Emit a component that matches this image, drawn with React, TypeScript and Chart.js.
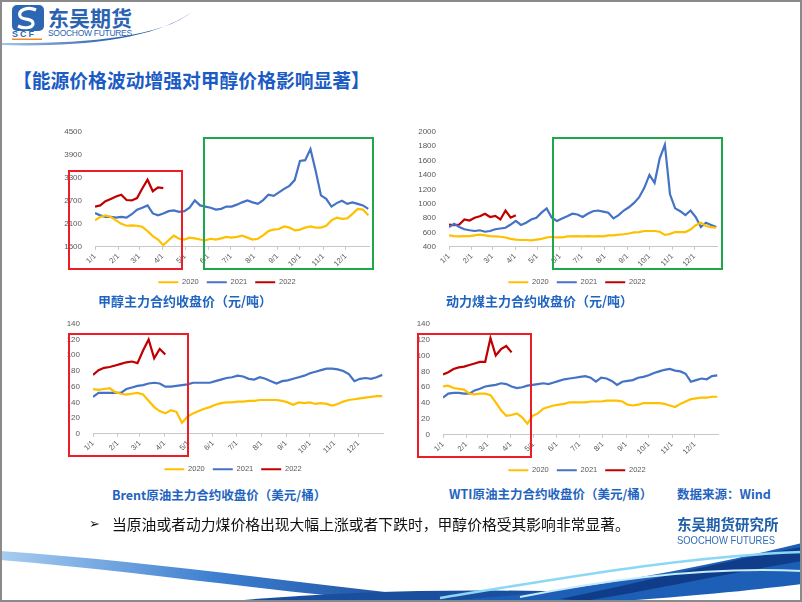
import React, { useEffect, useRef } from "react";
import { Chart, registerables } from "chart.js";
Chart.register(...registerables);

// x positions: day of year of each weekly sample
const weekDays = [0, 7, 14, 21, 28, 35, 42, 49, 56, 63, 70, 77, 84, 91, 98, 105, 112, 119, 126, 133, 140, 147, 154, 161, 168, 175, 182, 189, 196, 203, 210, 217, 224, 231, 238, 245, 252, 259, 266, 273, 280, 287, 294, 301, 308, 315, 322, 329, 336, 343, 350, 357, 364];
const monthStartDays = [0, 31, 59, 90, 120, 151, 181, 212, 243, 273, 304, 334];
const monthTickLabels = ["1/1", "2/1", "3/1", "4/1", "5/1", "6/1", "7/1", "8/1", "9/1", "10/1", "11/1", "12/1"];
const seriesNames = ["2020", "2021", "2022"];
const seriesColors = ["#FFC000", "#4472C4", "#C00000"];

// 甲醇主力合约收盘价（元/吨）
const methanol2020 = [2190, 2280, 2320, 2280, 2190, 2100, 2050, 2060, 2050, 2020, 1910, 1780, 1690, 1540, 1670, 1790, 1710, 1690, 1740, 1720, 1690, 1670, 1710, 1690, 1720, 1760, 1740, 1760, 1790, 1740, 1690, 1710, 1800, 1910, 1950, 1965, 2030, 2000, 1930, 1950, 2000, 2030, 2000, 2000, 2050, 2190, 2260, 2230, 2240, 2360, 2490, 2470, 2320];
const methanol2021 = [2380, 2320, 2280, 2280, 2260, 2280, 2260, 2350, 2470, 2520, 2580, 2370, 2320, 2370, 2430, 2450, 2410, 2430, 2520, 2710, 2580, 2550, 2520, 2470, 2490, 2550, 2550, 2600, 2660, 2710, 2660, 2620, 2720, 2860, 2830, 2920, 3010, 3090, 3240, 3740, 3760, 4050, 3480, 2840, 2750, 2550, 2640, 2700, 2620, 2660, 2620, 2580, 2490];
const methanol2022 = [2550, 2580, 2690, 2750, 2810, 2860, 2720, 2710, 2770, 3020, 3250, 2950, 3050, 3030];

// 动力煤主力合约收盘价（元/吨）
const coal2020 = [560, 550, 545, 550, 550, 560, 570, 560, 550, 545, 540, 530, 510, 500, 495, 495, 490, 500, 510, 530, 540, 530, 530, 545, 545, 550, 545, 550, 545, 550, 545, 560, 560, 570, 575, 585, 600, 605, 620, 620, 620, 610, 565, 580, 605, 605, 605, 640, 700, 735, 690, 675, 665];
const coal2021 = [675, 720, 675, 645, 630, 620, 630, 610, 620, 645, 655, 665, 710, 760, 705, 735, 780, 805, 875, 935, 805, 760, 795, 825, 860, 850, 815, 860, 895, 905, 890, 875, 795, 840, 905, 950, 1010, 1090, 1220, 1400, 1290, 1630, 1820, 1130, 935, 895, 840, 905, 815, 675, 735, 705, 675];
const coal2022 = [710, 700, 710, 780, 765, 805, 825, 860, 815, 830, 780, 905, 805, 840];

// Brent原油主力合约收盘价（美元/桶）
const brent2020 = [57, 56, 57, 58, 53, 51, 50, 51, 52, 50, 42, 34, 29, 26, 30, 28, 14, 22, 26, 29, 32, 34, 37, 39, 40, 40, 41, 41, 42, 42, 43, 43, 43, 43, 42, 40, 37, 40, 39, 40, 38, 39, 38, 36, 38, 41, 43, 44, 45, 46, 47, 48, 48];
const brent2021 = [47, 52, 52, 52, 52, 52, 57, 59, 61, 62, 64, 65, 64, 60, 60, 61, 62, 63, 65, 65, 65, 65, 67, 69, 71, 72, 74, 73, 70, 69, 72, 70, 67, 64, 67, 68, 70, 72, 74, 77, 79, 81, 83, 83, 82, 80, 76, 67, 70, 71, 70, 72, 75];
const brent2022 = [75, 81, 84, 85, 87, 89, 91, 92, 90, 106, 120, 96, 108, 101];

// WTI原油主力合约收盘价（美元/桶）
const wti2020 = [61, 62, 59, 58, 57, 52, 51, 52, 52, 50, 41, 31, 24, 25, 27, 22, 14, 24, 27, 33, 35, 37, 38, 39, 41, 41, 41, 41, 42, 42, 42, 43, 43, 43, 42, 38, 37, 38, 40, 40, 40, 40, 39, 37, 35, 39, 42, 45, 46, 47, 47, 48, 48];
const wti2021 = [47, 52, 53, 53, 52, 52, 56, 58, 61, 62, 63, 65, 64, 61, 59, 60, 62, 63, 64, 65, 64, 66, 68, 70, 71, 72, 73, 74, 72, 67, 72, 71, 68, 63, 67, 68, 69, 72, 73, 75, 78, 80, 82, 83, 81, 80, 77, 67, 69, 71, 70, 74, 75];
const wti2022 = [76, 79, 83, 85, 86, 88, 90, 92, 92, 122, 100, 108, 112, 104];

const tickFont = "'Liberation Sans', Arial, sans-serif";
const cjkFont = "'Noto Sans CJK SC', 'DejaVu Sans', sans-serif";

type ChartProps = {
  left: number; top: number; width: number; height: number;
  yMin: number; yMax: number; yStep: number;
  yWidth: number; rightWidth: number; padTop: number;
  series: number[][];
};

function LineChart(p: ChartProps) {
  const ref = useRef<HTMLCanvasElement>(null);
  useEffect(() => {
    const canvas = ref.current;
    if (!canvas) return;
    const chart = new Chart(canvas, {
      type: "line",
      data: {
        datasets: p.series.map((vals, k) => ({
          label: seriesNames[k],
          data: vals.map((v, i) => ({ x: weekDays[i], y: v })),
          borderColor: seriesColors[k],
          backgroundColor: seriesColors[k],
          borderWidth: 2.2,
          pointRadius: 0,
          tension: 0,
          yAxisID: "y",
        })),
      },
      options: {
        animation: false,
        responsive: false,
        maintainAspectRatio: false,
        events: [],
        layout: { padding: { top: p.padTop, right: 0, bottom: 0, left: 0 } },
        scales: {
          x: {
            type: "linear",
            min: 0,
            max: 365,
            afterBuildTicks: (s: any) => {
              s.ticks = monthStartDays.map((v) => ({ value: v }));
            },
            ticks: {
              autoSkip: false,
              minRotation: 45,
              maxRotation: 45,
              padding: 2,
              color: "#595959",
              font: { size: 7.5, family: tickFont },
              callback: (v: any) => {
                const i = monthStartDays.indexOf(Number(v));
                return i >= 0 ? monthTickLabels[i] : "";
              },
            },
            grid: { display: true, drawOnChartArea: false, drawTicks: true, tickLength: 3, color: "#c8c8c8" },
            border: { display: true, color: "#c8c8c8", width: 1 },
          },
          y: {
            type: "linear",
            position: "left",
            min: p.yMin,
            max: p.yMax,
            ticks: {
              stepSize: p.yStep,
              padding: 5,
              color: "#595959",
              font: { size: 8, family: tickFont },
              callback: (v: any) => String(v),
            },
            grid: { display: false },
            border: { display: false },
            afterFit: (s: any) => {
              s.width = p.yWidth;
            },
          },
          yR: {
            type: "linear",
            position: "right",
            display: true,
            grid: { display: false },
            border: { display: false },
            ticks: { display: false },
            afterFit: (s: any) => {
              s.width = p.rightWidth;
            },
          },
        },
        plugins: {
          legend: {
            position: "bottom",
            labels: {
              usePointStyle: true,
              pointStyle: "line",
              pointStyleWidth: 20,
              color: "#595959",
              padding: 8,
              font: { size: 7.5, family: tickFont },
            },
          },
          tooltip: { enabled: false },
        },
      } as any,
    });
    return () => chart.destroy();
  }, []);
  return (
    <canvas
      ref={ref}
      width={p.width}
      height={p.height}
      style={{ position: "absolute", left: p.left, top: p.top, width: p.width, height: p.height }}
    />
  );
}

function Box({ l, t, r, b, color }: { l: number; t: number; r: number; b: number; color: string }) {
  return (
    <div
      style={{
        position: "absolute",
        left: l,
        top: t,
        width: r - l,
        height: b - t,
        border: `2px solid ${color}`,
        boxSizing: "border-box",
      }}
    />
  );
}

function Caption({ left, top, text, size }: { left: number; top: number; text: string; size: number }) {
  return (
    <div
      style={{
        position: "absolute",
        left,
        top,
        fontSize: size,
        lineHeight: "16px",
        fontWeight: 700,
        color: "#1f64c0",
        whiteSpace: "nowrap",
        fontFamily: cjkFont,
      }}
    >
      {text}
    </div>
  );
}

export default function App() {
  useEffect(() => {
    document.body.style.margin = "0";
  }, []);
  return (
    <div
      style={{
        position: "fixed",
        left: 0,
        top: 0,
        width: 802,
        height: 602,
        background: "#ffffff",
        overflow: "hidden",
        fontFamily: cjkFont,
      }}
    >
      {/* decorations */}
      <svg width={802} height={602} style={{ position: "absolute", left: 0, top: 0 }}>
        <defs>
          <linearGradient id="gLeftSwoosh" x1="0" y1="0" x2="1" y2="0">
            <stop offset="0" stopColor="#a8cdf0" />
            <stop offset="0.45" stopColor="#3d7fd0" />
            <stop offset="1" stopColor="#123f8c" />
          </linearGradient>
          <linearGradient id="gTopArc" x1="0" y1="0" x2="1" y2="0">
            <stop offset="0" stopColor="#a9c6e8" />
            <stop offset="0.6" stopColor="#2a63b0" />
            <stop offset="1" stopColor="#1b4f9c" />
          </linearGradient>
        </defs>
        {/* top logo */}
        <rect x={12} y={5} width={32} height={26} rx={5} fill="#2d66b3" />
        <path d="M36,10 C28,6 18,10 20,16 C22,21 32,17 33,23 C34,28 24,29 18,26" stroke="#ffffff" strokeWidth={3.2} fill="none" />
        <text x={12} y={37} fontSize={9} fontWeight={700} fill="#2d66b3" fontFamily={tickFont} letterSpacing={2}>SCF</text>
        <rect x={12} y={38.5} width={30} height={1.5} fill="#f08a24" />
        <path d="M0,45 C70,47 150,42 192,12 C160,38 80,44 0,43 Z" fill="url(#gTopArc)" />
        {/* bottom waves */}
        <path d="M0,551 C150,561 300,584 480,602 L400,602 C270,592 140,571 0,560 Z" fill="url(#gLeftSwoosh)" />
        <path d="M220,602 C330,592 440,588 580,592 L580,602 Z" fill="#1a4f9f" />
        <path d="M420,602 C560,596 690,570 802,543 L802,584 C720,594 640,600 600,602 Z" fill="#1d5fb6" />
        <path d="M560,599 C650,581 730,559 802,547 L802,561 C730,573 650,590 585,601 Z" fill="#0f3d89" />
        <path d="M440,598 C580,575 690,556 802,552" stroke="#8ad8f5" strokeWidth={2.5} fill="none" />
        <path d="M520,597 C640,573 730,567 802,571" stroke="#c6ecfa" strokeWidth={2} fill="none" />
      </svg>

      <div style={{ position: "absolute", left: 48, top: 4, fontSize: 21, lineHeight: "26px", fontWeight: 700, color: "#2a63b0", whiteSpace: "nowrap" }}>
        东吴期货
      </div>
      <div style={{ position: "absolute", left: 48, top: 28, fontSize: 8.5, lineHeight: "10px", color: "#2a63b0", whiteSpace: "nowrap", fontFamily: tickFont, letterSpacing: -0.3 }}>
        SOOCHOW FUTURES
      </div>

      <div style={{ position: "absolute", left: 13, top: 69, fontSize: 18.8, lineHeight: "22px", fontWeight: 700, color: "#1a5bc4", whiteSpace: "nowrap" }}>
        【能源价格波动增强对甲醇价格影响显著】
      </div>

      <LineChart left={60} top={122} width={334} height={174} yMin={1500} yMax={4500} yStep={600} yWidth={35} rightWidth={25} padTop={9} series={[methanol2020, methanol2021, methanol2022]} />
      <LineChart left={410} top={122} width={334} height={174} yMin={400} yMax={2000} yStep={200} yWidth={39} rightWidth={27} padTop={8} series={[coal2020, coal2021, coal2022]} />
      <LineChart left={60} top={314} width={346} height={169} yMin={0} yMax={140} yStep={20} yWidth={33} rightWidth={23} padTop={9} series={[brent2020, brent2021, brent2022]} />
      <LineChart left={410} top={314} width={334} height={170} yMin={0} yMax={140} yStep={20} yWidth={33} rightWidth={26} padTop={9} series={[wti2020, wti2021, wti2022]} />

      <Box l={68} t={170} r={183} b={270} color="#ee1c25" />
      <Box l={203} t={137} r={374} b={270} color="#1fa84a" />
      <Box l={552} t={137} r={723} b={270} color="#1fa84a" />
      <Box l={68} t={333} r={189} b={457} color="#ee1c25" />
      <Box l={417} t={333} r={532} b={458} color="#ee1c25" />

      <Caption left={98} top={293} size={13} text="甲醇主力合约收盘价（元/吨）" />
      <Caption left={446} top={293} size={13} text="动力煤主力合约收盘价（元/吨）" />
      <Caption left={112} top={487} size={12.5} text="Brent原油主力合约收盘价（美元/桶）" />
      <Caption left={449} top={486} size={12.5} text="WTI原油主力合约收盘价（美元/桶）" />
      <Caption left={677} top={486} size={12.5} text="数据来源：Wind" />

      <div style={{ position: "absolute", left: 89, top: 514, fontSize: 13, lineHeight: "20px", color: "#111", fontFamily: "'DejaVu Sans', sans-serif" }}>➢</div>
      <div style={{ position: "absolute", left: 112, top: 514, fontSize: 14.8, lineHeight: "20px", color: "#111", whiteSpace: "nowrap" }}>
        当原油或者动力煤价格出现大幅上涨或者下跌时，甲醇价格受其影响非常显著。
      </div>

      <div style={{ position: "absolute", left: 677, top: 514, fontSize: 14.5, lineHeight: "20px", fontWeight: 700, color: "#1f5fa8", whiteSpace: "nowrap" }}>
        东吴期货研究所
      </div>
      <div style={{ position: "absolute", left: 677, top: 534, fontSize: 11.5, lineHeight: "13px", color: "#2f6db5", whiteSpace: "nowrap", fontFamily: tickFont, transform: "scaleX(0.82)", transformOrigin: "left center" }}>
        SOOCHOW FUTURES
      </div>

      <div style={{ position: "absolute", left: 0, top: 0, width: 802, height: 602, border: "2px solid #8a8a8a", boxSizing: "border-box", pointerEvents: "none" }} />
    </div>
  );
}
